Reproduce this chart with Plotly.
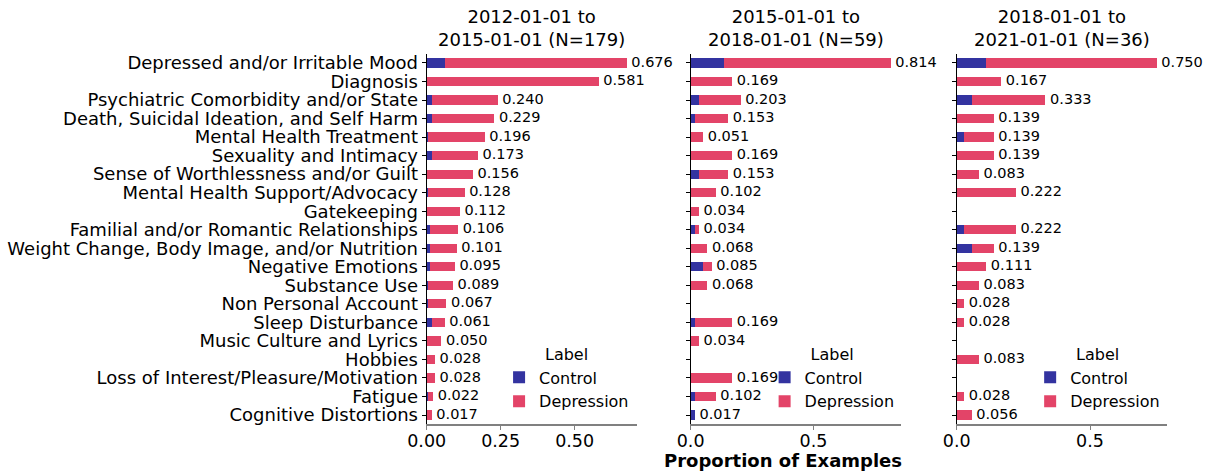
import plotly.graph_objects as go

categories = [
    "Depressed and/or Irritable Mood", "Diagnosis", "Psychiatric Comorbidity and/or State",
    "Death, Suicidal Ideation, and Self Harm", "Mental Health Treatment", "Sexuality and Intimacy",
    "Sense of Worthlessness and/or Guilt", "Mental Health Support/Advocacy", "Gatekeeping",
    "Familial and/or Romantic Relationships", "Weight Change, Body Image, and/or Nutrition",
    "Negative Emotions", "Substance Use", "Non Personal Account", "Sleep Disturbance",
    "Music Culture and Lyrics", "Hobbies", "Loss of Interest/Pleasure/Motivation", "Fatigue",
    "Cognitive Distortions",
]

panel_titles = [
    "2012-01-01 to<br>2015-01-01 (N=179)",
    "2015-01-01 to<br>2018-01-01 (N=59)",
    "2018-01-01 to<br>2021-01-01 (N=36)",
]

# totals (control + depression) per panel
total_1 = [0.676, 0.581, 0.240, 0.229, 0.196, 0.173, 0.156, 0.128, 0.112, 0.106, 0.101,
           0.095, 0.089, 0.067, 0.061, 0.050, 0.028, 0.028, 0.022, 0.017]
control_1 = [0.061, 0.0, 0.017, 0.017, 0.006, 0.017, 0.0, 0.006, 0.0, 0.011, 0.011,
             0.011, 0.006, 0.006, 0.017, 0.0, 0.0, 0.0, 0.006, 0.0]
total_2 = [0.814, 0.169, 0.203, 0.153, 0.051, 0.169, 0.153, 0.102, 0.034, 0.034, 0.068,
           0.085, 0.068, 0.0, 0.169, 0.034, 0.0, 0.169, 0.102, 0.017]
control_2 = [0.136, 0.0, 0.034, 0.017, 0.0, 0.0, 0.034, 0.0, 0.0, 0.017, 0.0,
             0.051, 0.0, 0.0, 0.017, 0.0, 0.0, 0.0, 0.017, 0.017]
total_3 = [0.750, 0.167, 0.333, 0.139, 0.139, 0.139, 0.083, 0.222, 0.0, 0.222, 0.139,
           0.111, 0.083, 0.028, 0.028, 0.0, 0.083, 0.0, 0.028, 0.056]
control_3 = [0.111, 0.0, 0.056, 0.0, 0.028, 0.0, 0.0, 0.0, 0.0, 0.028, 0.056,
             0.0, 0.0, 0.0, 0.0, 0.0, 0.0, 0.0, 0.0, 0.0]

x_ticks = [[0, 0.25, 0.5], [0, 0.5], [0, 0.5]]
x_ticktext = [["0.00", "0.25", "0.50"], ["0.0", "0.5"], ["0.0", "0.5"]]

CONTROL_COLOR = "#3333A0"
DEPRESSION_COLOR = "#E34468"
FONT = "DejaVu Sans"

panels = [(total_1, control_1), (total_2, control_2), (total_3, control_3)]
x_domains = [(0.3535, 0.5275), (0.5722, 0.7462), (0.7926, 0.9666)]
y_domain = (1 - 424.3 / 472, 1 - 53.7 / 472)
legend_names = ["legend", "legend2", "legend3"]

fig = go.Figure()
layout = {}
n = len(categories)

for i, (tot, ctl) in enumerate(panels):
    dep = [round(t - c, 4) for t, c in zip(tot, ctl)]
    sfx = "" if i == 0 else str(i + 1)
    xa, ya = "x" + sfx, "y" + sfx
    fig.add_trace(go.Bar(y=categories, x=ctl, orientation="h", name="Control",
                         marker=dict(color=CONTROL_COLOR, line=dict(width=0)), width=0.5,
                         xaxis=xa, yaxis=ya, legend=legend_names[i], hoverinfo="x+y"))
    fig.add_trace(go.Bar(y=categories, x=dep, orientation="h", name="Depression",
                         marker=dict(color=DEPRESSION_COLOR, line=dict(width=0)), width=0.5,
                         xaxis=xa, yaxis=ya, legend=legend_names[i], hoverinfo="x+y"))
    lab_x = [t for t in tot if t > 0]
    lab_y = [c for c, t in zip(categories, tot) if t > 0]
    fig.add_trace(go.Scatter(x=lab_x, y=lab_y, mode="text", text=[f" {t:.3f}" for t in lab_x],
                             textposition="middle right", textfont=dict(size=14.5, color="black", family=FONT),
                             showlegend=False, xaxis=xa, yaxis=ya, hoverinfo="skip", cliponaxis=False))
    xmax = max(tot) * 1.05
    layout["xaxis" + sfx] = dict(
        domain=list(x_domains[i]), anchor=ya, range=[0, xmax], tickvals=x_ticks[i],
        ticktext=x_ticktext[i], showgrid=False, zeroline=False, showline=True, automargin=False,
        linecolor="#808080", linewidth=1.5, ticks="outside", tickcolor="#808080", ticklen=4,
        tickwidth=1.2, ticklabelstandoff=-4, tickfont=dict(size=17.5, color="black", family=FONT),
    )
    layout["yaxis" + sfx] = dict(
        domain=list(y_domain), anchor=xa, type="category", categoryorder="array",
        categoryarray=categories, tickmode="array", tickvals=categories,
        range=[n - 0.5, -0.5], showgrid=False, zeroline=False, automargin=False,
        showline=True, linecolor="black", linewidth=1.2, ticks="outside", tickcolor="black",
        ticklen=4, tickwidth=1, showticklabels=(i == 0),
        tickfont=dict(size=18, color="black", family=FONT),
    )
    leg_x = [0.416, 0.636, 0.856][i] - 0.0166 + 17 / 1207
    layout[legend_names[i]] = dict(
        x=leg_x, y=0.2804, xanchor="left", yanchor="top", bgcolor="rgba(0,0,0,0)",
        traceorder="normal",
        title=dict(text="Label", side="top center", font=dict(size=16, family=FONT, color="black")),
        font=dict(size=16, family=FONT, color="black"), tracegroupgap=0, itemwidth=30,
    )

annotations = []
for i, t in enumerate(panel_titles):
    annotations.append(dict(text=t, x=sum(x_domains[i]) / 2, y=y_domain[1], xref="paper", yref="paper",
                            xanchor="center", yanchor="bottom", yshift=2, showarrow=False,
                            font=dict(size=18, family=FONT, color="black")))
annotations.append(dict(text="<b>Proportion of Examples</b>", x=0.6487, y=1 - 460 / 472, xref="paper",
                        yref="paper", xanchor="center", yanchor="middle", showarrow=False,
                        font=dict(size=18, family=FONT, color="black")))

fig.update_layout(
    width=1207, height=472, margin=dict(l=0, r=0, t=0, b=0), barmode="stack",
    plot_bgcolor="white", paper_bgcolor="white", font=dict(family=FONT, color="black"),
    annotations=annotations, **layout,
)

fig.write_html("out.html", config={"displayModeBar": False},
               post_script="document.body.style.margin='0px';document.body.style.overflow='hidden';")
